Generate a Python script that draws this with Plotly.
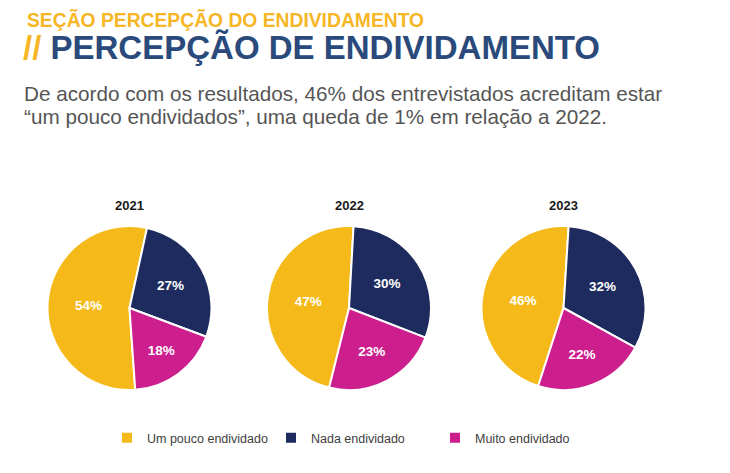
import plotly.graph_objects as go

W, H = 730, 473

years = ["2021", "2022", "2023"]
labels = ["Um pouco endividado", "Nada endividado", "Muito endividado"]
um_pouco = [54, 47, 46]
nada = [27, 30, 32]
muito = [18, 23, 22]

colors = ["#F5BA19", "#1E2B5E", "#CC1E8C"]
rotations = [176, 194, 198]
# pie boxes in pixels (left, right), shared top/bottom
pie_x = [(47.5, 211.5), (267, 431), (481.5, 645.5)]
pie_top, pie_bottom = 226, 390

# the page body adds an 8px margin, so pixel targets are shifted back by it
OFF = 8


def px_x(v):
    return (v - OFF) / W


def px_y(v):
    return 1 - (v - OFF) / H


fig = go.Figure()

for i, year in enumerate(years):
    x0, x1 = pie_x[i]
    fig.add_trace(go.Pie(
        labels = labels,
        values = [um_pouco[i], nada[i], muito[i]],
        sort = False,
        direction = "clockwise",
        rotation = rotations[i],
        marker = dict(colors = colors, line = dict(color = "white", width = 2)),
        texttemplate = "%{value}%",
        textposition = "inside",
        insidetextorientation = "horizontal",
        insidetextfont = dict(color = "white", size = 13.5, family = "Liberation Sans", weight = "bold"),
        hoverinfo = "label+value",
        domain = dict(x = [px_x(x0), px_x(x1)], y = [px_y(pie_bottom), px_y(pie_top)]),
        showlegend = (i == 0),
    ))
    fig.add_annotation(
        x = px_x((x0 + x1) / 2), y = px_y(205), xref = "paper", yref = "paper",
        xanchor = "center", yanchor = "middle", showarrow = False,
        text = "<b>%s</b>" % year,
        font = dict(size = 13, color = "#1a1a1a", family = "Liberation Sans"),
    )

fig.add_annotation(
    x = px_x(25), y = px_y(20.5), xref = "paper", yref = "paper",
    xanchor = "left", yanchor = "middle", showarrow = False,
    text = "<b>SEÇÃO PERCEPÇÃO DO ENDIVIDAMENTO</b>",
    font = dict(size = 19.3, color = "#F6B626", family = "Liberation Sans"),
)
fig.add_annotation(
    x = px_x(21), y = px_y(47), xref = "paper", yref = "paper",
    xanchor = "left", yanchor = "middle", showarrow = False,
    text = "<b><span style='color:#F6B626'>//</span> PERCEPÇÃO DE ENDIVIDAMENTO</b>",
    font = dict(size = 33, color = "#2A4A7C", family = "Liberation Sans"),
)
body_lines = [
    "De acordo com os resultados, 46% dos entrevistados acreditam estar",
    "“um pouco endividados”, uma queda de 1% em relação a 2022.",
]
for k, line in enumerate(body_lines):
    fig.add_annotation(
        x = px_x(22), y = px_y(93 + 23 * k), xref = "paper", yref = "paper",
        xanchor = "left", yanchor = "middle", showarrow = False,
        text = line,
        font = dict(size = 20.7, color = "#555555", family = "Liberation Sans"),
    )

fig.update_layout(
    width = W,
    height = H,
    margin = dict(l = 0, r = 0, t = 0, b = 0),
    paper_bgcolor = "white",
    plot_bgcolor = "white",
    font = dict(family = "Liberation Sans"),
    legend = dict(
        orientation = "h",
        x = px_x(107), y = px_y(438),
        xanchor = "left", yanchor = "middle",
        entrywidth = 119,
        font = dict(size = 12.5, color = "#404040"),
    ),
)

fig.write_html("out.html")
